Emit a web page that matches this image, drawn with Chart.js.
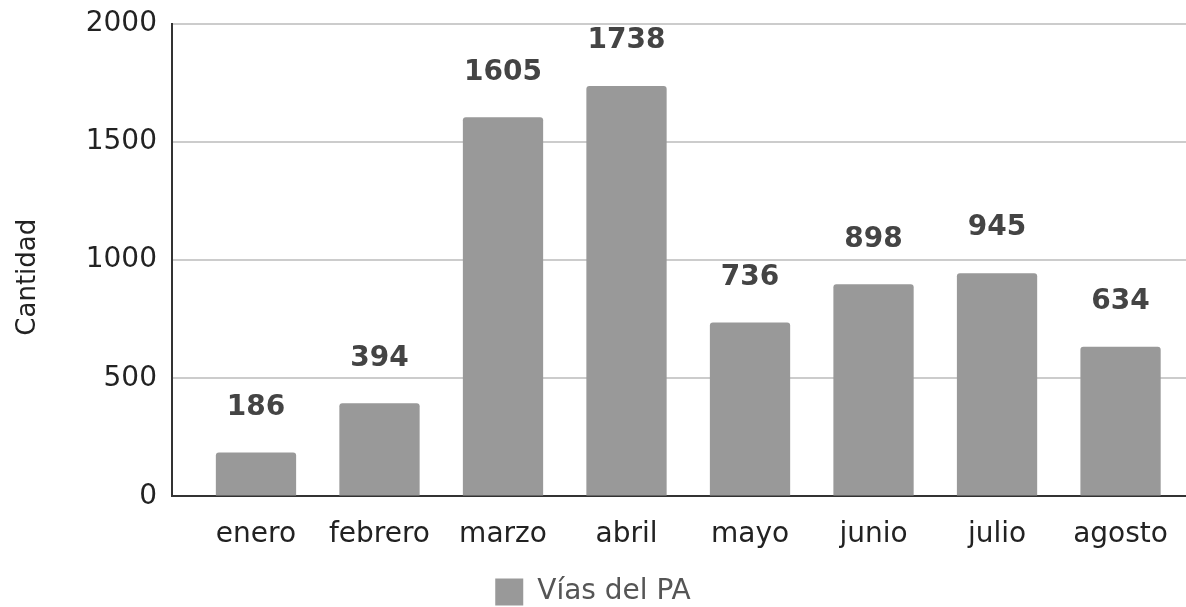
<!DOCTYPE html>
<html lang="es">
  <head>
    <meta charset="UTF-8" />
    <title>Vías del PA</title>
    <script src="https://cdn.jsdelivr.net/npm/chart.js"></script>
    <style>
      html, body { margin: 0; padding: 0; background: #fff; }
      #wrap { width: 1186px; height: 607px; }
    </style>
  </head>
  <body>
    <div id="wrap"><canvas id="grafico" width="1186" height="607"></canvas></div>

    <script>
      // datos
      const meses = ["enero", "febrero", "marzo", "abril", "mayo", "junio", "julio", "agosto"];
      const valores = [186, 394, 1605, 1738, 736, 898, 945, 634];
      const serie = "Vías del PA";
      const tituloY = "Cantidad";
      const ticksY = [0, 500, 1000, 1500, 2000];

      const fuente = "'DejaVu Sans', Verdana, sans-serif";

      // etiquetas encima de cada barra
      const etiquetas = {
        id: "etiquetas",
        afterDatasetsDraw(chart) {
          const ctx = chart.ctx;
          const meta = chart.getDatasetMeta(0);
          ctx.save();
          ctx.font = "bold 28px " + fuente;
          ctx.fillStyle = "#444444";
          ctx.textAlign = "center";
          ctx.textBaseline = "middle";
          meta.data.forEach((bar, i) => {
            ctx.fillText(String(valores[i]), bar.x, bar.y - 45);
          });
          ctx.restore();
        },
      };

      // titulo del eje y, un poco por debajo del centro como en el original
      const tituloEje = {
        id: "tituloEje",
        afterDraw(chart) {
          const ctx = chart.ctx;
          const area = chart.chartArea;
          ctx.save();
          ctx.translate(28, (area.top + area.bottom) / 2 + 17);
          ctx.rotate(-Math.PI / 2);
          ctx.font = "26px " + fuente;
          ctx.fillStyle = "#222222";
          ctx.textAlign = "center";
          ctx.textBaseline = "middle";
          ctx.fillText(tituloY, 0, 0);
          ctx.restore();
        },
      };

      const ctx = document.getElementById("grafico").getContext("2d");
      new Chart(ctx, {
        type: "bar",
        data: {
          datasets: [
            {
              label: serie,
              data: meses.map((m, i) => ({ x: i, y: valores[i] })),
              backgroundColor: "#999999",
              borderRadius: 3,
              barPercentage: 0.65,
              categoryPercentage: 1,
            },
          ],
        },
        options: {
          responsive: false,
          animation: false,
          layout: { padding: { top: 24, left: 0, right: 0, bottom: -9 } },
          plugins: {
            tooltip: { enabled: false },
            legend: {
              position: "bottom",
              labels: {
                font: { family: fuente, size: 28 },
                color: "#555555",
                boxWidth: 28,
                boxHeight: 27,
                padding: 4,
              },
            },
          },
          scales: {
            x: {
              type: "linear",
              offset: false,
              min: -0.68,
              max: 7.53,
              grid: { display: false, drawTicks: false },
              border: { display: true, color: "#333333", width: 2 },
              afterBuildTicks(scale) {
                scale.ticks = meses.map((m, i) => ({ value: i }));
              },
              afterFit(scale) {
                scale.paddingLeft = 0;
                scale.paddingRight = 0;
              },
              ticks: {
                autoSkip: false,
                maxRotation: 0,
                padding: 22,
                color: "#222222",
                font: { family: fuente, size: 28 },
                callback: (v) => meses[v],
              },
            },
            y: {
              min: 0,
              max: 2000,
              afterBuildTicks(scale) {
                scale.ticks = ticksY.map((v) => ({ value: v }));
              },
              afterFit(scale) {
                scale.width = 172;
                scale.paddingTop = 0;
                scale.paddingBottom = 0;
              },
              grid: { color: "#cccccc", lineWidth: 2, drawTicks: false },
              border: { display: true, color: "#333333", width: 2 },
              ticks: {
                padding: 15,
                color: "#222222",
                font: { family: fuente, size: 28 },
                callback: (v) => String(v),
              },
            },
          },
        },
        plugins: [etiquetas, tituloEje],
      });
    </script>
  </body>
</html>
